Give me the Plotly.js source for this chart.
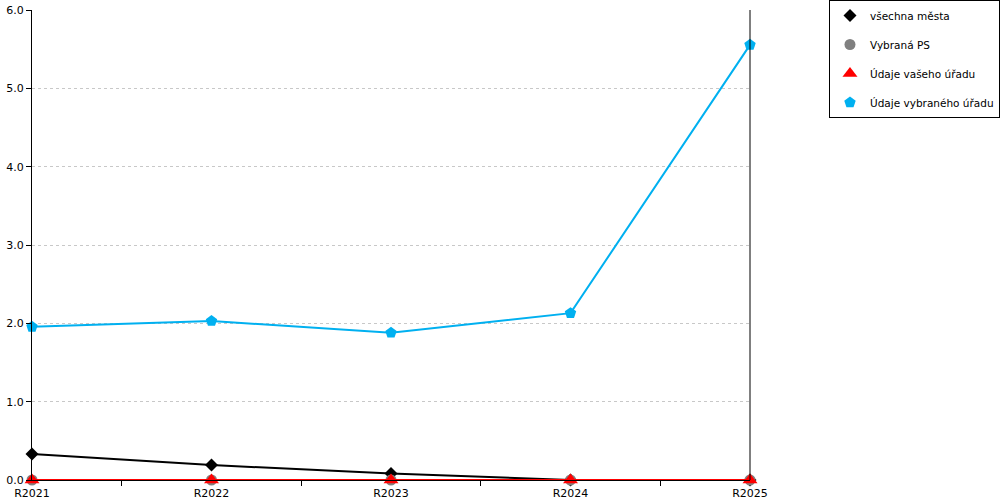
<!DOCTYPE html>
<html>
<head>
<meta charset="utf-8">
<script src="https://cdn.plot.ly/plotly-3.0.1.min.js"></script>
<style>html,body{margin:0;padding:0;background:#fff;}#chart{width:1000px;height:500px;}</style>
</head>
<body>
<div id="chart"></div>
<script>
const categories = ["R2021", "R2022", "R2023", "R2024", "R2025"];
const vsechnaMesta = [0.332, 0.19, 0.083, 0.0, 0.0];
const vybranaPS = [0, 0, 0, 0, 0];
const udajeVasehoUradu = [0, 0, 0, 0, 0];
const udajeVybranehoUradu = [1.955, 2.03, 1.88, 2.13, 5.555];
const yTicks = [0, 1, 2, 3, 4, 5, 6];

const seriesDefs = [
  {name: "všechna města", y: vsechnaMesta, color: "#000000", symbol: "diamond", size: 10},
  {name: "Vybraná PS", y: vybranaPS, color: "#808080", symbol: "circle", size: 11},
  {name: "Údaje vašeho úřadu", y: udajeVasehoUradu, color: "#ff0000", symbol: "triangle-up", size: 13},
  {name: "Údaje vybraného úřadu", y: udajeVybranehoUradu, color: "#00b0f0", symbol: "pentagon", size: 12}
];

const traces = [];
seriesDefs.forEach((s, i) => {
  traces.push({
    x: categories, y: s.y, type: "scatter", mode: "lines",
    line: {color: s.color, width: 2}, showlegend: false, hoverinfo: "skip",
    legendgroup: "g" + i
  });
  traces.push({
    x: categories, y: s.y, type: "scatter", mode: "markers", name: s.name,
    marker: {color: s.color, symbol: s.symbol, size: s.size, line: {width: 0}},
    legendgroup: "g" + i, cliponaxis: false
  });
});

const layout = {
  width: 1000, height: 500,
  margin: {l: 32, r: 250, t: 10, b: 20, pad: 0, autoexpand: false},
  paper_bgcolor: "#ffffff", plot_bgcolor: "#ffffff",
  font: {family: "DejaVu Sans, Verdana, sans-serif", size: 11, color: "#000000"},
  showlegend: true,
  legend: {
    x: 1.11, xanchor: "left", y: 1.0213, yanchor: "top",
    bordercolor: "#000000", borderwidth: 1, bgcolor: "#ffffff",
    traceorder: "grouped", tracegroupgap: 10,
    font: {family: "DejaVu Sans, Verdana, sans-serif", size: 10.5, color: "#000000"}
  },
  xaxis: {
    type: "category", range: [0, 4], tickson: "boundaries",
    ticks: "outside", ticklen: 5, tickcolor: "#000000", tickwidth: 1,
    ticklabelstandoff: 3,
    showline: true, linecolor: "#000000", linewidth: 1,
    showgrid: false, zeroline: false, fixedrange: true
  },
  yaxis: {
    range: [0, 6], tickvals: yTicks, tickformat: ".1f",
    ticks: "outside", ticklen: 5, tickcolor: "#000000",
    showline: true, linecolor: "#000000", linewidth: 1,
    showgrid: true, gridcolor: "#c8c8c8", griddash: "dot", gridwidth: 1,
    zeroline: false, fixedrange: true
  },
  shapes: [
    {type: "line", xref: "paper", yref: "paper", x0: 1, x1: 1, y0: 0, y1: 1,
     line: {color: "#000000", width: 1}, layer: "above"}
  ]
};

Plotly.newPlot("chart", traces, layout, {displayModeBar: false, staticPlot: true});
</script>
</body>
</html>
